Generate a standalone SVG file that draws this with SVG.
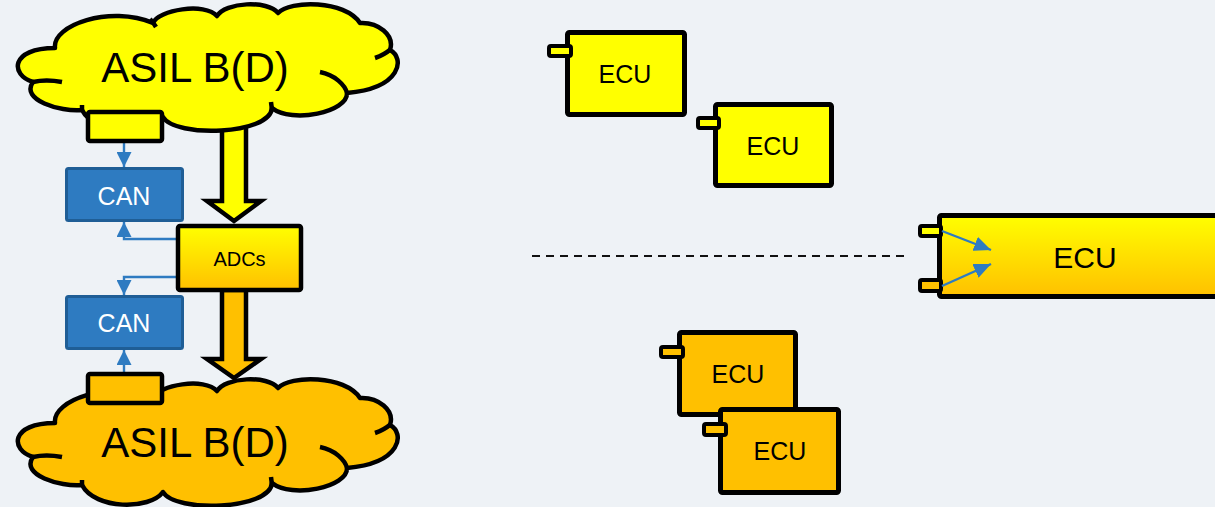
<svg xmlns="http://www.w3.org/2000/svg" width="1215" height="507" viewBox="0 0 1215 507">
<style>
.bg{fill:#EEF2F6}
.ol{stroke:#000;stroke-width:4.5;stroke-linejoin:round}
.ecu{stroke:#000;stroke-width:5;stroke-linejoin:round}
.port{stroke:#000;stroke-width:4;stroke-linejoin:round}
.yel{fill:#FFFF00}
.org{fill:#FFC000}
.can{fill:#2E7BC1;stroke:#1F5E96;stroke-width:3}
.detail{fill:none;stroke:#000;stroke-width:4.5;stroke-linecap:butt}
.t{font-family:"Liberation Sans",Arial,sans-serif;text-anchor:middle;fill:#000}
.tw{font-family:"Liberation Sans",Arial,sans-serif;text-anchor:middle;fill:#fff}
.blue{fill:none;stroke:#2E7BC1;stroke-width:2.4}
.dash{fill:none;stroke:#111;stroke-width:2;stroke-dasharray:8 6}
</style>
<defs>
<linearGradient id="gy" x1="0" y1="0" x2="0" y2="1">
<stop offset="0" stop-color="#FFFF00"/>
<stop offset="1" stop-color="#FFC000"/>
</linearGradient>
<marker id="ah" markerUnits="userSpaceOnUse" markerWidth="15" markerHeight="15" refX="15" refY="7.5" orient="auto">
<path d="M0,0 L15,7.5 L0,15 z" fill="#2E7BC1"/>
</marker>
<marker id="ah2" markerUnits="userSpaceOnUse" markerWidth="17" markerHeight="15" refX="17" refY="7.5" orient="auto">
<path d="M0,0 L17,7.5 L0,15 z" fill="#2E7BC1"/>
</marker>
<path id="cloud" d="M55,48 C52,25 110,5 153,23 C158,10 205,2 217,16 C225,2 268,0 278,13 C290,0 345,0 360,23 C378,22 395,35 390,50 C405,58 402,88 347,93 C348,112 292,124 272,108 C270,135 175,138 163,117 C150,135 95,135 82,110 C60,112 20,100 33,82 C10,75 10,48 55,48 Z"/>
<path id="cdet" d="M33,82 Q46,79 62,82 M150,19 Q153,22 156,27 M320,72 C335,75 345,85 347,93 M375,58 Q384,55 391,49 M271,102 L272,110 M82,105 L82,112"/>
</defs>
<rect class="bg" x="0" y="0" width="1215" height="507"/>

<g id="connectors">
<polygon id="arrow-top" class="ol yel" style="stroke-linejoin:miter" points="222,115 246,115 246,201 261,201 234,221 207,201 222,201"/>
<polygon id="arrow-bottom" class="ol org" style="stroke-linejoin:miter" points="222,290 246,290 246,359 261,359 234,378 207,359 222,359"/>
<path class="blue" d="M124,143 L124,167" marker-end="url(#ah)"/>
<path class="blue" d="M176,239 L124,239 L124,222" marker-end="url(#ah)"/>
<path class="blue" d="M176,277 L124,277 L124,295" marker-end="url(#ah)"/>
<path class="blue" d="M124,374 L124,350" marker-end="url(#ah)"/>
<path class="dash" d="M532,256 L905,256"/>
</g>

<g id="cloud-top">
<use href="#cloud" class="ol yel"/>
<use href="#cdet" class="detail"/>
<text class="t" x="195" y="82" font-size="42">ASIL B(D)</text>
</g>
<g id="port-top">
<rect class="ol yel" x="88" y="112" width="74" height="29" rx="2"/>
</g>

<g id="cloud-bottom" transform="translate(0,375)">
<use href="#cloud" class="ol org"/>
<use href="#cdet" class="detail"/>
<text class="t" x="195" y="82" font-size="42">ASIL B(D)</text>
</g>
<g id="port-bottom">
<rect class="ol org" x="88" y="374" width="74" height="29" rx="2"/>
</g>

<g id="can-1">
<rect class="can" x="66.5" y="168.5" width="116" height="52" rx="2"/>
<text class="tw" x="124" y="205" font-size="25">CAN</text>
</g>
<g id="can-2">
<rect class="can" x="66.5" y="296.5" width="116" height="52" rx="2"/>
<text class="tw" x="124" y="332" font-size="25">CAN</text>
</g>

<g id="adcs">
<rect class="ol" fill="url(#gy)" x="178" y="226" width="123" height="64" rx="2"/>
<text class="t" x="239.5" y="266" font-size="20">ADCs</text>
</g>

<g id="ecu-1">
<rect class="ecu yel" x="567.5" y="32.5" width="117" height="82" rx="2"/>
<rect class="port yel" x="549" y="46" width="22" height="10" rx="2"/>
<text class="t" x="625" y="83" font-size="25">ECU</text>
</g>
<g id="ecu-2">
<rect class="ecu yel" x="715.5" y="104.5" width="116" height="81" rx="2"/>
<rect class="port yel" x="698" y="118" width="21" height="10" rx="2"/>
<text class="t" x="773" y="155" font-size="25">ECU</text>
</g>

<g id="ecu-big">
<rect class="ecu" fill="url(#gy)" x="939.5" y="215.5" width="300" height="81" rx="2"/>
<rect class="port yel" x="920" y="226" width="21" height="10" rx="2"/>
<rect class="port org" x="920" y="280" width="21" height="11" rx="2"/>
<path class="blue" d="M942,231 L991,250" marker-end="url(#ah2)"/>
<path class="blue" d="M942,286 L991,264" marker-end="url(#ah2)"/>
<text class="t" x="1085" y="268" font-size="30">ECU</text>
</g>

<g id="ecu-3">
<rect class="ecu org" x="679.5" y="332.5" width="116" height="82" rx="2"/>
<rect class="port org" x="661" y="347" width="22" height="10" rx="2"/>
<text class="t" x="738" y="383" font-size="25">ECU</text>
</g>
<g id="ecu-4">
<rect class="ecu org" x="720.5" y="409.5" width="118" height="83" rx="2"/>
<rect class="port org" x="704" y="424" width="22" height="11" rx="2"/>
<text class="t" x="780" y="460" font-size="25">ECU</text>
</g>
</svg>
